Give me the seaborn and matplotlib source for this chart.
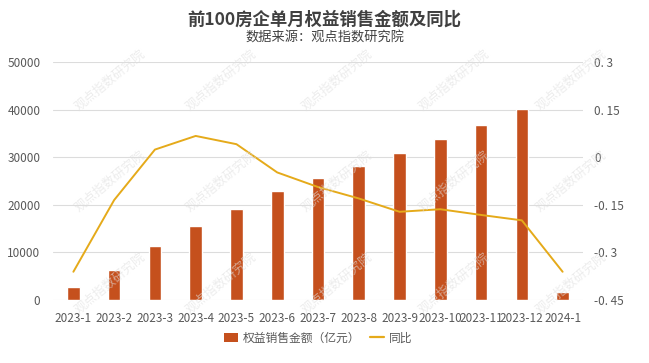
import pandas as pd
import matplotlib.pyplot as plt
import seaborn as sns
from matplotlib.lines import Line2D
from matplotlib.patches import Patch

# === DATOS ===
meses = ["2023-1", "2023-2", "2023-3", "2023-4", "2023-5", "2023-6", "2023-7",
         "2023-8", "2023-9", "2023-10", "2023-11", "2023-12", "2024-1"]
ventas = [2700, 6300, 11400, 15600, 19200, 22900, 25700,
          28100, 30900, 33900, 36700, 40100, 1750]
yoy = [-0.361, -0.135, 0.024, 0.067, 0.041, -0.048, -0.094,
       -0.130, -0.172, -0.164, -0.182, -0.199, -0.361]
ticks_der = [0.3, 0.15, 0, -0.15, -0.3, -0.45]
etiquetas_der = ["0. 3", "0. 15", "0", "-0. 15", "-0. 3", "-0. 45"]

df = pd.DataFrame({"mes": meses, "ventas": ventas, "yoy": yoy})

color_bar = "#C5501D"
color_lin = "#E5AA1A"
gris = "#595959"

sns.set_style("white")
plt.rcParams['font.family'] = ['Noto Sans CJK SC', 'DejaVu Sans']

fig = plt.figure(figsize=(6.49, 3.63), dpi=100)
ax = fig.add_axes([53 / 649, 1 - 300 / 363, 530 / 649, 238 / 363])

sns.barplot(data=df, x="mes", y="ventas", color=color_bar, width=0.31,
            saturation=1, ax=ax, zorder=3)
ax.set_ylim(0, 50000)
ax.set_yticks(range(0, 50001, 10000))
ax.grid(axis="y", color="#dcdcdc", linewidth=0.8, zorder=0)
ax.set_axisbelow(True)
for s in ax.spines.values():
    s.set_visible(False)
ax.set_xlabel("")
ax.set_ylabel("")
ax.tick_params(axis="both", length=0, labelsize=8.5, colors=gris)
ax.tick_params(axis="x", pad=9)
ax.tick_params(axis="y", pad=9)

ax2 = ax.twinx()
sns.lineplot(x=list(range(len(meses))), y=yoy, color=color_lin, linewidth=1.4,
             ax=ax2, zorder=4)
ax2.set_ylim(-0.45, 0.3)
ax2.set_yticks(ticks_der)
ax2.set_yticklabels(etiquetas_der)
for s in ax2.spines.values():
    s.set_visible(False)
ax2.tick_params(axis="y", length=0, labelsize=8.5, colors=gris, pad=8)
ax2.grid(False)
ax.set_xlim(-0.5, len(meses) - 0.5)

# === MARCAS DE AGUA ===
for fx in [0.17, 0.34, 0.52, 0.70, 0.88]:
    for fy in [0.22, 0.50, 0.78]:
        fig.text(fx, fy, "观点指数研究院", rotation=40, fontsize=9,
                 color="#e0e0e0", alpha=0.6, ha="center", va="center", zorder=0)

# === TÍTULOS ===
fig.text(0.5, 1 - 20 / 363, "前100房企单月权益销售金额及同比", ha="center",
         va="center", fontsize=12.5, fontweight="bold", color="#404040")
fig.text(0.5, 1 - 38 / 363, "数据来源：观点指数研究院", ha="center",
         va="center", fontsize=9.5, color="#404040")

# === LEYENDA ===
handles = [Patch(facecolor=color_bar, edgecolor="none"),
           Line2D([0], [0], color=color_lin, linewidth=1.6)]
fig.legend(handles, ["权益销售金额（亿元）", "同比"], loc="center",
           bbox_to_anchor=(318 / 649, 1 - 338 / 363), ncol=2, frameon=False,
           fontsize=8.5, labelcolor=gris, handlelength=1.2, handleheight=0.7,
           handletextpad=0.4, columnspacing=0.8)

plt.savefig("out.png", dpi=100)
